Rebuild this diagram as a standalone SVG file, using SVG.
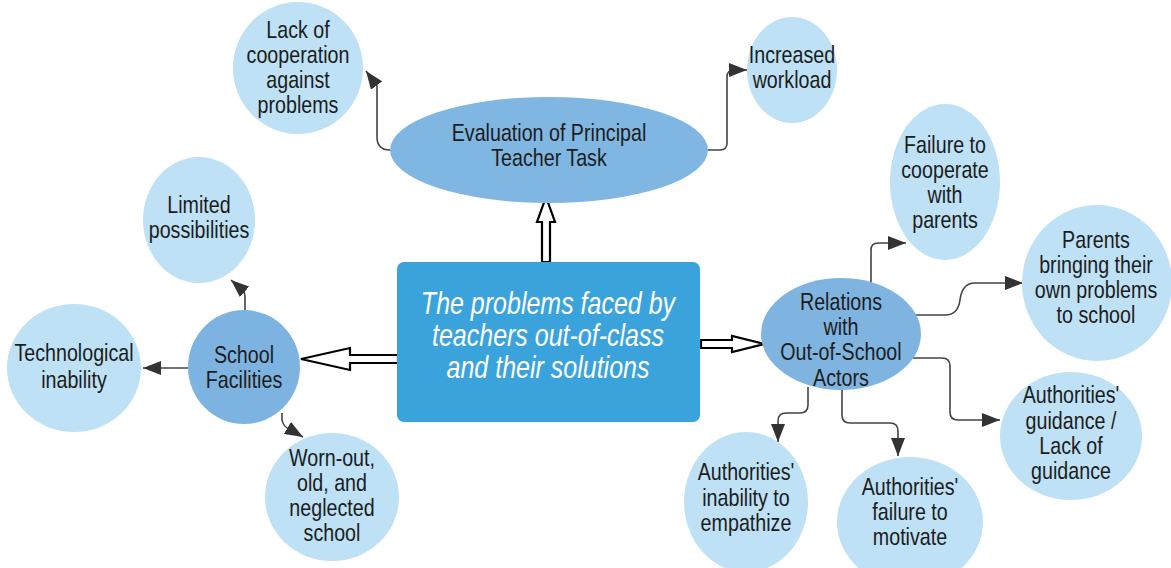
<svg xmlns="http://www.w3.org/2000/svg" width="1171" height="568" viewBox="0 0 1171 568">
<style>
text{font-family:"Liberation Sans",Arial,sans-serif;font-size:24px;fill:#1c1c1c;text-anchor:middle}
.leaf{fill:#bee1f5}
.mid{fill:#80b6e2}
.con{fill:none;stroke:#444;stroke-width:1.6;marker-end:url(#ah)}
.big{fill:#fff;stroke:#000;stroke-width:2.2;stroke-linejoin:miter}
.main text{fill:#fff;font-style:italic;font-size:30.5px}
</style>
<defs>
<marker id="ah" markerUnits="userSpaceOnUse" markerWidth="20" markerHeight="14" refX="18" refY="7" orient="auto">
<path d="M0,0 L18,7 L0,14 z" fill="#333"/>
</marker>
</defs>
<rect width="1171" height="568" fill="#fff"/>
<g id="connectors">
<path class="con" d="M390,150 Q377,150 377,137 L377,86 L366,71"/>
<path class="con" d="M707,150 L720,150 Q727,150 727,143 L727,77 Q727,70 734,70 L747,70"/>
<path class="con" d="M871,283 L871,250 Q871,243 878,243 L906,243"/>
<path class="con" d="M915,315 L945,315 Q958,315 960,300 Q962,283 975,283 L1023,283"/>
<path class="con" d="M913,358 L942,358 Q950,358 950,366 L950,412 Q950,420 958,420 L1000,420"/>
<path class="con" d="M808,387 L808,405 Q808,413 800,413 L786,413 Q778,413 778,421 L778,442"/>
<path class="con" d="M842,390 L842,415 Q842,423 850,423 L890,423 Q898,423 898,431 L898,456"/>
<path class="con" d="M188,368 L143,368"/>
<path class="con" d="M245,310 L245,297 Q245,290 239,287 L231,280"/>
<path class="con" d="M282,413 L282,420 Q283,427 291,430 L303,437"/>
<polygon class="big" points="542,262 542,222 537,222 546,197 555,222 550,222 550,262"/>
<polygon class="big" points="398,355 350,355 350,348 301,359 350,370 350,363 398,363"/>
<polygon class="big" points="701,340 732,340 732,336 765,344 732,352 732,348 701,348"/>
</g>
<g id="main" class="main">
<rect x="397" y="262" width="303" height="160" rx="7" fill="#3aa3dc"/>
<g transform="scale(0.82,1)">
<text x="668.29" y="314">The problems faced by</text>
<text x="668.29" y="346">teachers out-of-class</text>
<text x="668.29" y="378">and their solutions</text>
</g>
</g>
<g id="evaluation">
<ellipse class="mid" cx="549" cy="150" rx="159" ry="53"/>
<g transform="scale(0.82,1)">
<text x="669.51" y="141">Evaluation of Principal</text>
<text x="669.51" y="166">Teacher Task</text>
</g>
</g>
<g id="lack">
<ellipse class="leaf" cx="298" cy="68" rx="65" ry="66"/>
<g transform="scale(0.82,1)">
<text x="363.41" y="38">Lack of</text>
<text x="363.41" y="63">cooperation</text>
<text x="363.41" y="88">against</text>
<text x="363.41" y="113">problems</text>
</g>
</g>
<g id="workload">
<ellipse class="leaf" cx="792" cy="70" rx="45" ry="53"/>
<g transform="scale(0.82,1)">
<text x="965.85" y="63">Increased</text>
<text x="965.85" y="88">workload</text>
</g>
</g>
<g id="school">
<ellipse cx="244" cy="367" rx="56" ry="57" fill="#7db3e0"/>
<g transform="scale(0.82,1)">
<text x="297.56" y="363">School</text>
<text x="297.56" y="388">Facilities</text>
</g>
</g>
<g id="limited">
<ellipse class="leaf" cx="199" cy="220" rx="56" ry="63"/>
<g transform="scale(0.82,1)">
<text x="242.68" y="213">Limited</text>
<text x="242.68" y="238">possibilities</text>
</g>
</g>
<g id="techno">
<ellipse class="leaf" cx="74" cy="368" rx="67" ry="64"/>
<g transform="scale(0.82,1)">
<text x="90.24" y="361">Technological</text>
<text x="90.24" y="388">inability</text>
</g>
</g>
<g id="wornout">
<ellipse class="leaf" cx="332" cy="497" rx="67" ry="64"/>
<g transform="scale(0.82,1)">
<text x="404.88" y="466">Worn-out,</text>
<text x="404.88" y="491">old, and</text>
<text x="404.88" y="516">neglected</text>
<text x="404.88" y="541">school</text>
</g>
</g>
<g id="relations">
<ellipse cx="841" cy="334" rx="80" ry="56" fill="#80b4e0"/>
<g transform="scale(0.82,1)">
<text x="1025.61" y="310">Relations</text>
<text x="1025.61" y="335">with</text>
<text x="1025.61" y="360">Out-of-School</text>
<text x="1025.61" y="386">Actors</text>
</g>
</g>
<g id="failure-coop">
<ellipse class="leaf" cx="945" cy="182" rx="55" ry="78"/>
<g transform="scale(0.82,1)">
<text x="1152.44" y="153">Failure to</text>
<text x="1152.44" y="178">cooperate</text>
<text x="1152.44" y="203">with</text>
<text x="1152.44" y="228">parents</text>
</g>
</g>
<g id="parents">
<ellipse class="leaf" cx="1097" cy="283" rx="75" ry="78"/>
<g transform="scale(0.82,1)">
<text x="1336.59" y="248">Parents</text>
<text x="1336.59" y="273">bringing their</text>
<text x="1336.59" y="298">own problems</text>
<text x="1336.59" y="323">to school</text>
</g>
</g>
<g id="guidance">
<ellipse class="leaf" cx="1071" cy="436" rx="71" ry="64"/>
<g transform="scale(0.82,1)">
<text x="1306.10" y="403">Authorities'</text>
<text x="1306.10" y="429">guidance /</text>
<text x="1306.10" y="454">Lack of</text>
<text x="1306.10" y="479">guidance</text>
</g>
</g>
<g id="inability">
<ellipse class="leaf" cx="746" cy="502" rx="62" ry="70"/>
<g transform="scale(0.82,1)">
<text x="909.76" y="480">Authorities'</text>
<text x="909.76" y="506">inability to</text>
<text x="909.76" y="531">empathize</text>
</g>
</g>
<g id="failure-motivate">
<ellipse class="leaf" cx="910" cy="522" rx="73" ry="65"/>
<g transform="scale(0.82,1)">
<text x="1109.76" y="495">Authorities'</text>
<text x="1109.76" y="520">failure to</text>
<text x="1109.76" y="545">motivate</text>
</g>
</g>
</svg>
